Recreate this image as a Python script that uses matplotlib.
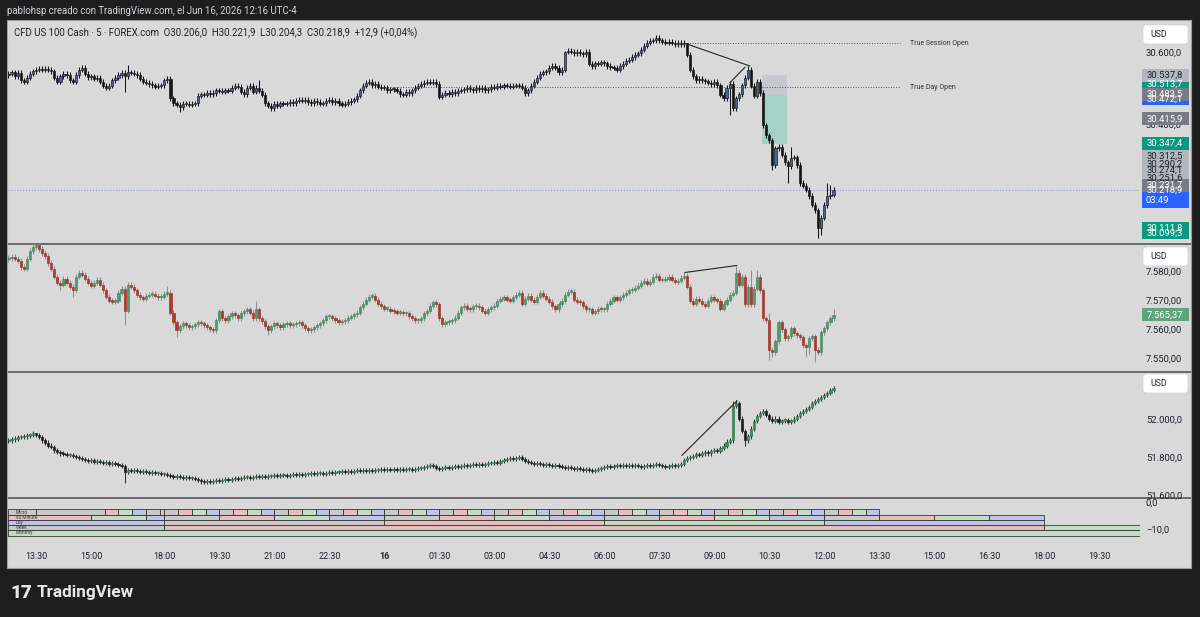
import numpy as np
import matplotlib
matplotlib.use("Agg")
import matplotlib.pyplot as plt
from matplotlib.patches import Rectangle, FancyBboxPatch

plt.rcParams['font.family'] = ['Roboto', 'DejaVu Sans']

# ---------------- data (5 min candles, index 0 = 12:45 Jun 15) ----------------
time_ticks = [9, 27, 51, 69, 87, 105, 123, 141, 159, 177, 195, 213, 231, 249, 267,
              285, 303, 321, 339, 357]
time_labels = ['13:30', '15:00', '18:00', '19:30', '21:00', '22:30', '16', '01:30', '03:00',
               '04:30', '06:00', '07:30', '09:00', '10:30', '12:00', '13:30', '15:00',
               '16:30', '18:00', '19:30']

# CFD US 100 Cash closes
top_close = [
    30541, 30546, 30535, 30544, 30524, 30519, 30530, 30541, 30549, 30552,
    30555, 30552, 30555, 30552, 30549, 30530, 30519, 30535, 30541, 30538,
    30524, 30519, 30538, 30552, 30558, 30541, 30532, 30535, 30527, 30530,
    30519, 30508, 30502, 30508, 30524, 30530, 30538, 30544, 30535, 30546,
    30544, 30541, 30538, 30527, 30519, 30516, 30513, 30510, 30505, 30508,
    30510, 30524, 30527, 30474, 30460, 30455, 30449, 30458, 30458, 30455,
    30458, 30460, 30480, 30485, 30483, 30488, 30485, 30488, 30496, 30494,
    30491, 30496, 30494, 30502, 30508, 30505, 30491, 30485, 30502, 30508,
    30491, 30502, 30494, 30483, 30460, 30452, 30446, 30458, 30452, 30460,
    30458, 30460, 30463, 30460, 30466, 30469, 30466, 30469, 30463, 30460,
    30466, 30463, 30458, 30460, 30466, 30469, 30463, 30466, 30460, 30455,
    30458, 30463, 30466, 30471, 30480, 30496, 30508, 30516, 30519, 30510,
    30513, 30505, 30502, 30502, 30496, 30499, 30499, 30494, 30485, 30483,
    30491, 30488, 30496, 30502, 30508, 30513, 30516, 30519, 30516, 30519,
    30513, 30477, 30483, 30488, 30485, 30491, 30488, 30494, 30496, 30499,
    30502, 30499, 30496, 30502, 30499, 30502, 30496, 30499, 30505, 30502,
    30508, 30505, 30510, 30508, 30505, 30508, 30510, 30508, 30502, 30488,
    30496, 30508, 30519, 30530, 30541, 30546, 30549, 30558, 30563, 30558,
    30546, 30552, 30602, 30605, 30602, 30599, 30602, 30599, 30596, 30602,
    30569, 30563, 30571, 30569, 30574, 30571, 30563, 30560, 30558, 30552,
    30563, 30569, 30577, 30580, 30588, 30594, 30599, 30608, 30619, 30627,
    30633, 30635, 30641, 30635, 30630, 30627, 30630, 30627, 30624, 30627,
    30624, 30627, 30594, 30552, 30535, 30524, 30527, 30524, 30521, 30516,
    30513, 30519, 30510, 30483, 30474, 30502, 30513, 30446, 30474, 30485,
    30510, 30530, 30552, 30508, 30480, 30519, 30488, 30399, 30371, 30357,
    30288, 30335, 30338, 30316, 30296, 30285, 30308, 30310, 30288, 30238,
    30230, 30219, 30202, 30177, 30163, 30113, 30141, 30177, 30202, 30206.0,
    30218.9]
top_highs = {39: 30566, 82: 30524, 182: 30605, 222: 30627, 242: 30563, 256: 30338,
             268: 30238, 269: 30232}
top_lows = {38: 30490, 56: 30435, 236: 30427, 250: 30274, 255: 30238, 263: 30171,
            265: 30085, 266: 30093}

# second symbol (middle pane)
mid_close = [
    7585.0, 7585.4, 7584.7, 7584.0, 7581.9, 7581.3, 7584.7, 7587.4, 7588.8, 7589.5,
    7588.1, 7586.7, 7585.7, 7583.3, 7581.3, 7578.5, 7576.5, 7575.8, 7577.8, 7576.5,
    7575.1, 7574.1, 7578.5, 7579.9, 7579.2, 7577.8, 7576.5, 7575.5, 7576.5, 7577.5,
    7575.8, 7573.8, 7571.7, 7570.3, 7570.0, 7570.3, 7573.1, 7574.4, 7566.9, 7575.8,
    7575.1, 7573.8, 7572.4, 7571.4, 7571.0, 7572.0, 7572.4, 7572.7, 7572.0, 7571.4,
    7571.7, 7572.7, 7573.1, 7566.2, 7562.8, 7560.1, 7561.5, 7562.5, 7561.8, 7561.1,
    7561.5, 7562.2, 7562.8, 7562.5, 7561.8, 7561.1, 7560.4, 7560.1, 7563.5, 7566.6,
    7564.2, 7563.5, 7564.9, 7565.9, 7565.2, 7564.2, 7565.9, 7566.6, 7567.3, 7566.2,
    7564.2, 7567.3, 7564.2, 7563.2, 7561.5, 7560.1, 7561.5, 7562.5, 7561.8, 7561.1,
    7562.2, 7562.5, 7561.8, 7562.2, 7562.5, 7562.8, 7561.8, 7560.8, 7560.1, 7560.4,
    7561.1, 7561.8, 7562.5, 7563.5, 7564.9, 7564.9, 7564.2, 7563.5, 7562.8, 7563.2,
    7563.5, 7564.5, 7564.9, 7565.6, 7566.2, 7568.0, 7569.3, 7570.7, 7571.7, 7572.0,
    7570.7, 7569.3, 7568.3, 7567.6, 7567.6, 7566.9, 7566.6, 7566.2, 7566.2, 7565.9,
    7565.9, 7564.9, 7564.2, 7563.5, 7563.5, 7564.2, 7565.9, 7566.9, 7568.6, 7569.7,
    7569.0, 7564.2, 7562.2, 7562.8, 7563.2, 7563.5, 7564.5, 7566.2, 7568.0, 7568.6,
    7567.6, 7567.3, 7568.3, 7568.6, 7568.0, 7566.9, 7566.2, 7567.3, 7568.0, 7568.6,
    7570.3, 7571.0, 7571.4, 7570.7, 7570.3, 7571.4, 7572.4, 7573.1, 7569.3, 7571.0,
    7572.0, 7570.7, 7570.0, 7571.7, 7573.1, 7572.0, 7571.0, 7570.0, 7568.3, 7567.3,
    7569.0, 7570.3, 7572.4, 7573.4, 7573.4, 7570.7, 7570.0, 7569.7, 7568.3, 7567.3,
    7567.3, 7566.2, 7566.6, 7567.6, 7567.3, 7567.3, 7569.3, 7570.3, 7571.4, 7570.7,
    7571.4, 7572.4, 7573.1, 7573.8, 7574.1, 7574.8, 7575.5, 7576.5, 7577.2, 7576.1,
    7576.8, 7578.5, 7578.9, 7577.5, 7577.5, 7577.8, 7578.5, 7577.5, 7576.8, 7577.2,
    7578.2, 7578.9, 7575.1, 7570.3, 7569.3, 7571.0, 7570.3, 7569.3, 7568.6, 7570.3,
    7571.4, 7570.7, 7570.3, 7567.6, 7569.3, 7570.7, 7572.4, 7573.1, 7579.9, 7575.8,
    7578.5, 7569.0, 7575.1, 7569.0, 7574.4, 7578.5, 7573.8, 7564.2, 7563.5, 7553.3,
    7552.6, 7556.3, 7562.8, 7560.4, 7557.4, 7558.1, 7560.8, 7559.1, 7558.4, 7557.7,
    7555.0, 7554.3, 7557.4, 7558.1, 7553.3, 7552.6, 7559.4, 7560.8, 7562.8, 7564.2,
    7565.37]
mid_highs = {9: 7589.9, 52: 7575.5, 81: 7570.3, 221: 7580.0, 238: 7582.4, 239: 7581.0,
             243: 7581.0, 245: 7581.0, 249: 7566.0, 270: 7567.5}
mid_lows = {17: 7573.8, 21: 7571.4, 38: 7561.8, 55: 7557.7, 85: 7558.4, 249: 7549.9,
            250: 7551.0, 261: 7551.0, 262: 7552.0, 264: 7549.2}

# third symbol (bottom pane)
bot_close = [
    51895, 51900, 51905, 51911, 51911, 51916, 51921, 51926, 51932, 51926,
    51911, 51895, 51884, 51868, 51858, 51842, 51832, 51826, 51821, 51816,
    51816, 51811, 51805, 51800, 51795, 51789, 51784, 51789, 51779, 51784,
    51779, 51774, 51779, 51768, 51774, 51768, 51763, 51758, 51726, 51737,
    51732, 51737, 51732, 51726, 51732, 51726, 51721, 51726, 51721, 51721,
    51716, 51716, 51711, 51705, 51700, 51705, 51700, 51695, 51700, 51695,
    51695, 51689, 51684, 51679, 51674, 51679, 51674, 51679, 51684, 51679,
    51684, 51689, 51684, 51689, 51695, 51689, 51695, 51700, 51700, 51695,
    51700, 51705, 51700, 51705, 51700, 51705, 51705, 51711, 51705, 51711,
    51711, 51705, 51711, 51716, 51711, 51716, 51711, 51716, 51716, 51721,
    51716, 51721, 51721, 51716, 51721, 51726, 51721, 51726, 51726, 51732,
    51726, 51732, 51726, 51732, 51737, 51732, 51737, 51732, 51737, 51732,
    51737, 51737, 51742, 51737, 51742, 51737, 51742, 51737, 51742, 51737,
    51742, 51742, 51737, 51742, 51747, 51747, 51753, 51758, 51763, 51758,
    51747, 51742, 51747, 51753, 51747, 51753, 51758, 51753, 51758, 51763,
    51758, 51763, 51768, 51763, 51768, 51763, 51768, 51774, 51774, 51779,
    51774, 51784, 51789, 51795, 51800, 51795, 51800, 51805, 51795, 51784,
    51779, 51774, 51768, 51774, 51768, 51763, 51768, 51763, 51758, 51763,
    51758, 51753, 51747, 51753, 51747, 51742, 51747, 51742, 51737, 51742,
    51737, 51732, 51737, 51742, 51747, 51753, 51758, 51753, 51758, 51763,
    51758, 51763, 51758, 51763, 51758, 51763, 51758, 51753, 51758, 51763,
    51758, 51763, 51768, 51763, 51758, 51753, 51758, 51763, 51758, 51763,
    51768, 51789, 51800, 51805, 51811, 51821, 51816, 51826, 51832, 51826,
    51837, 51842, 51837, 51853, 51868, 51889, 51895, 52079, 52095, 52011,
    51947, 51895, 51916, 51958, 52000, 52026, 52042, 52053, 52032, 52011,
    52000, 52011, 51995, 52000, 52005, 51995, 52000, 52011, 52026, 52042,
    52053, 52063, 52074, 52095, 52105, 52116, 52126, 52137, 52147, 52163,
    52174]
bot_highs = {9: 51937, 237: 52105, 238: 52110}
bot_lows = {38: 51668, 63: 51663, 241: 51868}

# drawings
trend_top = [((222.0, 30624.2), (242.6, 30563.1)), ((236.1, 30516.7), (241.0, 30559.4))]
trend_mid = [((221.4, 7580.0), (238.3, 7582.4))]
trend_bot = [((220.4, 51816), (238.4, 52105))]
session_open, day_open = 30625.6, 30504.7
pos_x0, pos_x1 = 246.6, 254.8
pos_stop, pos_entry, pos_target = 30537.8, 30483.5, 30347.4

# price axis tags (price, text, kind)
top_tags = [(30513.7, '30.513,7', 'green'), (30472.1, '30.472,1', 'blue'),
            (30537.8, '30.537,8', 'light'), (30483.5, '30.483,5', 'dark'),
            (30415.9, '30.415,9', 'dark'), (30347.4, '30.347,4', 'green'),
            (30312.5, '30.312,5', 'light'), (30290.2, '30.290,2', 'light'),
            (30274.1, '30.274,1', 'light'), (30251.6, '30.251,6', 'light'),
            (30218.9, '30.218,9', 'now'), (30231.7, '30.231,7', 'dark'),
            (30111.8, '30.111,8', 'green'), (30099.3, '30.099,3', 'green')]
top_ticks = [30600, 30500, 30400, 30300, 30200, 30100]
mid_ticks = [7580, 7570, 7560, 7550]
bot_ticks = [52000, 51800, 51600]

# session indicator rows
q90_edges = [0, 27, 45, 51, 69, 87, 105, 123, 141, 159, 177, 195, 213, 231, 249, 267,
             285, 303, 321, 339]
q90_cols = ['r', 'g', 'b', 'k', 'r', 'g', 'b', 'k', 'r', 'g', 'b', 'k', 'r', 'g', 'b',
            'k', 'r', 'g', 'b']
day_edges = [0, 51, 123, 195, 267, 339]
day_cols = ['b', 'k', 'r', 'g', 'b']
week_edges = [0, 51, 339, 370.3]
week_cols = ['k', 'r', 'g']
month_edges = [0, 370.3]
month_cols = ['g']
row_names = ['Micro', '90 Minute', 'Day', 'Week', 'Monthly']

# ---------------- layout ----------------
W, H = 1200, 617
XLIM = (-0.16, 370.3)
BG = '#d9d9d9'
TXT = '#1e222d'
BOXC = {'k': '#c9c9c9', 'r': '#e6bebe', 'g': '#c3dcc3', 'b': '#bec4e6'}
TAGC = {'light': ('#b4b6be', TXT), 'dark': ('#787b86', 'white'),
        'green': ('#089981', 'white'), 'blue': ('#2962ff', 'white'),
        'now': ('#2962ff', 'white')}


def box(x0, y0, x1, y1):
    return [x0 / W, 1 - y1 / H, (x1 - x0) / W, (y1 - y0) / H]


fig = plt.figure(figsize=(W / 100, H / 100), dpi=100)
fig.patch.set_facecolor('#1e1e1e')

frame = fig.add_axes(box(7, 20, 1191, 568))
frame.set_facecolor(BG)
frame.set_xlim(7, 1191)
frame.set_ylim(568, 20)
frame.set_xticks([])
frame.set_yticks([])
for s in frame.spines.values():
    s.set_color('#9a9a9a')
    s.set_linewidth(0.8)
for yy in (243.5, 371.5, 497.5):
    frame.axhline(yy, color='#4d4d4d', lw=1.1)


def panel(y0, y1, ylim):
    ax = fig.add_axes(box(8, y0, 1140, y1))
    axr = fig.add_axes(box(1140, y0, 1190, y1))
    for a in (ax, axr):
        a.set_ylim(*ylim)
        a.axis('off')
    ax.set_xlim(*XLIM)
    axr.set_xlim(0, 1)
    return ax, axr, (y1 - y0) / (ylim[1] - ylim[0])


def candles(ax, pxu, close, first_open, wick, highs, lows, up_c, dn_c, up_e, dn_e, wick_c):
    c = np.array(close, dtype=float)
    o = np.r_[first_open, c[:-1]]
    hi = np.maximum(o, c) + wick
    lo = np.minimum(o, c) - wick
    for i, v in highs.items():
        hi[i] = v
    for i, v in lows.items():
        lo[i] = v
    x = np.arange(len(c))
    up = c >= o
    ax.vlines(x, lo, hi, colors=wick_c, lw=0.75, zorder=3)
    ax.bar(x, np.maximum(np.abs(c - o), 1.2 / pxu), bottom=np.minimum(o, c), width=0.7,
           color=np.where(up, up_c, dn_c), edgecolor=np.where(up, up_e, dn_e),
           linewidth=0.45, zorder=4)


def ticks(axr, vals, fmt):
    for v in vals:
        axr.text(0.12, v, fmt(v), ha='left', va='center', fontsize=6.8, color=TXT, zorder=2)


def tag(axr, pxu, price, text, kind):
    bg, fg = TAGC[kind]
    top, bot = (7, 18) if kind == 'now' else (6.5, 6.5)
    axr.add_patch(Rectangle((0.03, price - bot / pxu), 0.94, (top + bot) / pxu,
                            color=bg, lw=0, zorder=5))
    axr.text(0.5, price, text, ha='center', va='center', fontsize=6.8, color=fg, zorder=6)
    if kind == 'now':
        axr.text(0.12, price - 11 / pxu, '03:49', ha='left', va='center', fontsize=6.8,
                 color=fg, zorder=6)


def fmt1(v):
    return f'{v:,.1f}'.replace(',', ' ').replace('.', ',').replace(' ', '.')


def fmt2(v):
    return f'{v:,.2f}'.replace(',', ' ').replace('.', ',').replace(' ', '.')


# ---- top pane ----
ax1, ax1r, pxu1 = panel(20, 243, (30071.4, 30690.8))
candles(ax1, pxu1, top_close, 30538, 7, top_highs, top_lows,
        '#4a5fa3', '#141414', '#141414', '#141414', '#141414')
ax1.add_patch(Rectangle((pos_x0, pos_entry), pos_x1 - pos_x0, pos_stop - pos_entry,
                        color='#c7c7cf', lw=0, zorder=1))
ax1.add_patch(Rectangle((pos_x0, pos_target), pos_x1 - pos_x0, pos_entry - pos_target,
                        color='#a4d2c6', lw=0, zorder=1))
ax1.plot([222, 291.7], [session_open] * 2, color='#555555', lw=0.7, ls=(0, (1, 1.6)), zorder=2)
ax1.plot([123.2, 291.7], [day_open] * 2, color='#555555', lw=0.7, ls=(0, (1, 1.6)), zorder=2)
ax1.text(295, session_open, 'True Session Open', fontsize=5, va='center', color='#333333')
ax1.text(295, day_open, 'True Day Open', fontsize=5, va='center', color='#333333')
ax1.axhline(top_close[-1], color='#7f8fc9', lw=0.7, ls=(0, (1, 2)), zorder=2)
for (xa, ya), (xb, yb) in trend_top:
    ax1.plot([xa, xb], [ya, yb], color='#262626', lw=0.8, zorder=5)
ticks(ax1r, top_ticks, fmt1)
for p, t, k in top_tags:
    tag(ax1r, pxu1, p, t, k)

# ---- middle pane ----
ax2, ax2r, pxu2 = panel(244, 371, (7546.1, 7589.8))
candles(ax2, pxu2, mid_close, 7584.5, 0.9, mid_highs, mid_lows,
        '#4f9a6c', '#b0382e', '#3f8a5c', '#9a2e25', '#8e8e8e')
for (xa, ya), (xb, yb) in trend_mid:
    ax2.plot([xa, xb], [ya, yb], color='#262626', lw=0.8, zorder=5)
ticks(ax2r, mid_ticks, fmt2)
tag(ax2r, pxu2, mid_close[-1], fmt2(mid_close[-1]), 'green')
ax2r.patches[-1].set_color('#5fa47c')

# ---- bottom pane ----
ax3, ax3r, pxu3 = panel(372, 497, (51595, 52258))
candles(ax3, pxu3, bot_close, 51890, 11, bot_highs, bot_lows,
        '#3e8e5e', '#1a1a1a', '#2f6f48', '#1a1a1a', '#333333')
for (xa, ya), (xb, yb) in trend_bot:
    ax3.plot([xa, xb], [ya, yb], color='#262626', lw=0.8, zorder=5)
ticks(ax3r, bot_ticks, fmt1)

# ---- session boxes pane ----
ax4, ax4r, pxu4 = panel(498, 541, (-14.07, 1.852))
row_tops = [-2.4, -4.33, -6.26, -8.19, -10.11]
row_h = 1.93


def row(top, edges, cols):
    for xa, xb, c in zip(edges[:-1], edges[1:], cols):
        ax4.add_patch(Rectangle((xa, top - row_h), xb - xa, row_h, facecolor=BOXC[c],
                                edgecolor='#2b2b2b', lw=0.55))


micro_edges, micro_cols = [0, 9], ['k']
for s, e in zip(q90_edges[:-1], q90_edges[1:]):
    if s < 9 or s >= 285:
        continue
    k = 0
    while s + 4.5 * k < e:
        micro_edges.append(min(s + 4.5 * (k + 1), e))
        micro_cols.append('krgb'[k % 4])
        k += 1
row(row_tops[0], micro_edges, micro_cols)
row(row_tops[1], q90_edges, q90_cols)
row(row_tops[2], day_edges, day_cols)
row(row_tops[3], week_edges, week_cols)
row(row_tops[4], month_edges, month_cols)
for top, name in zip(row_tops, row_names):
    ax4.text(2.3, top - row_h / 2, name, fontsize=3.4, va='center', color='#3a3a3a')
ax4r.text(0.12, 0, '0,0', ha='left', va='center', fontsize=6.8, color=TXT)
ax4r.text(0.12, -10, '\u221210,0', ha='left', va='center', fontsize=6.8, color=TXT)

# ---- time axis ----
axt = fig.add_axes(box(8, 541, 1140, 568))
axt.axis('off')
axt.set_xlim(*XLIM)
axt.set_ylim(0, 1)
for t, lab in zip(time_ticks, time_labels):
    axt.text(t, 0.41, lab, ha='center', va='center', fontsize=6.5, color=TXT,
             fontweight='bold' if lab == '16' else 'normal')

# ---- overlay texts / boxes ----
over = fig.add_axes([0, 0, 1, 1])
over.set_xlim(0, W)
over.set_ylim(H, 0)
over.axis('off')
over.text(7, 11, 'pablohsp creado con TradingView.com, el Jun 16, 2026 12:16 UTC-4',
          fontsize=6.9, color='#d1d4dc', va='center')
over.text(14, 33, 'CFD US 100 Cash \u00b7 5 \u00b7 FOREX.com  O30.206,0  H30.221,9  '
          'L30.204,3  C30.218,9  +12,9 (+0,04%)', fontsize=6.9, color=TXT, va='center')
for y0 in (25, 247, 374):
    over.add_patch(FancyBboxPatch((1143, y0), 45, 19, boxstyle='round,pad=0,rounding_size=3',
                                  facecolor='white', edgecolor='#cfcfcf', lw=0.5))
    over.text(1150, y0 + 9.5, 'USD', fontsize=6.3, va='center', color=TXT)
over.text(10, 593, '17', fontsize=13.5, fontweight='heavy', color='#e8e8e8', va='center')
over.text(37, 593, 'TradingView', fontsize=12.3, fontweight='bold', color='#e8e8e8',
          va='center')

fig.savefig('out.png', dpi=100, facecolor=fig.get_facecolor())
